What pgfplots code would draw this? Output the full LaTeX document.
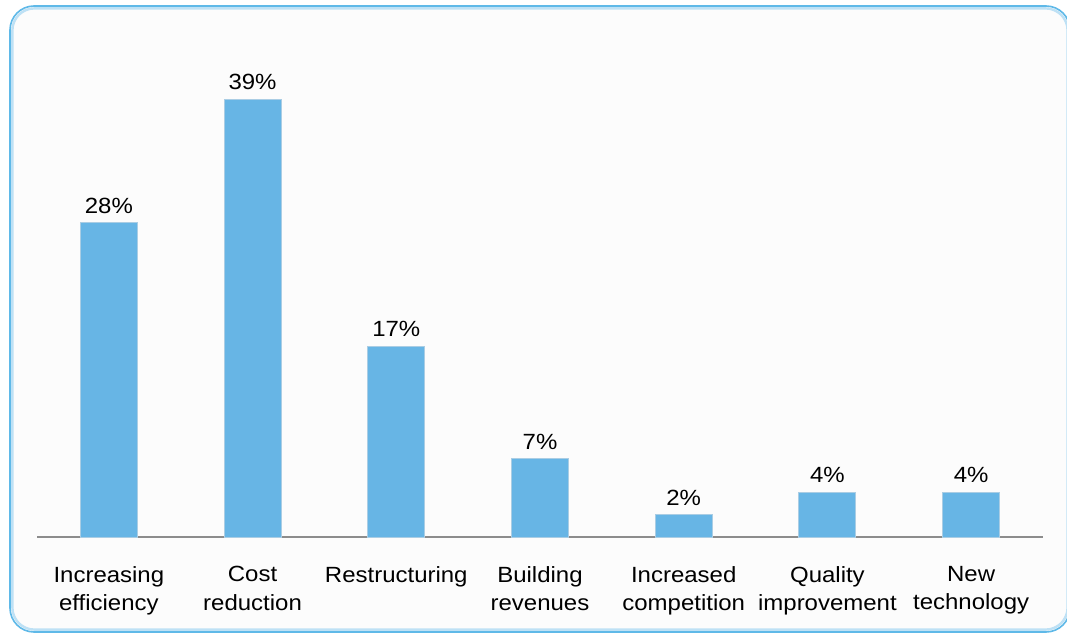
\documentclass[border=0pt]{standalone}
\usepackage{pgfplots}
\pgfplotsset{compat=1.18}
\usepackage{fontspec}
\setmainfont{Liberation Sans}[FakeStretch=1.09]
\definecolor{barblue}{RGB}{103,181,229}
\definecolor{baredge}{RGB}{170,205,228}
\definecolor{frameblue}{RGB}{95,185,232}
\definecolor{framelight}{RGB}{190,225,245}
\begin{document}
\begin{tikzpicture}
\useasboundingbox (0,0) rectangle (533.5pt,317pt);
\fill[black!1, rounded corners=12pt] (5pt,1pt) rectangle (535pt,314pt);
\draw[framelight, line width=1.2pt, rounded corners=11pt] (6.2pt,2.2pt) rectangle (533.8pt,312.8pt);
\draw[frameblue, line width=0.8pt, rounded corners=12pt] (5pt,1pt) rectangle (535pt,314pt);
\begin{axis}[
  at={(18.5pt,48.5pt)}, anchor=south west,
  scale only axis, width=503pt, height=224.5pt,
  xmin=-0.5, xmax=6.5, ymin=0, ymax=40,
  axis x line*=bottom, axis y line=none,
  x axis line style={draw=black!45, line width=0.6pt, -},
  xtick=data, major tick length=0pt,
  xticklabels={{Increasing\\efficiency},{Cost\\reduction},{Restructuring},{Building\\revenues},{Increased\\competition},{Quality\\improvement},{New\\technology}},
  xticklabel style={align=center, font=\fontsize{11}{14.3}\selectfont, yshift=-11pt, text depth=0pt},
  ytick=\empty,
  ybar, bar width=28.5pt,
  /pgf/number format/assume math mode=true,
  nodes near coords={\pgfmathprintnumber{\pgfplotspointmeta}\%},
  every node near coord/.append style={font=\fontsize{11}{14}\selectfont, yshift=1pt},
  clip=false,
]
\addplot[fill=barblue, draw=baredge, line width=0.5pt] coordinates {(0,28) (1,39) (2,17) (3,7) (4,2) (5,4) (6,4)};
\end{axis}
\end{tikzpicture}
\end{document}
